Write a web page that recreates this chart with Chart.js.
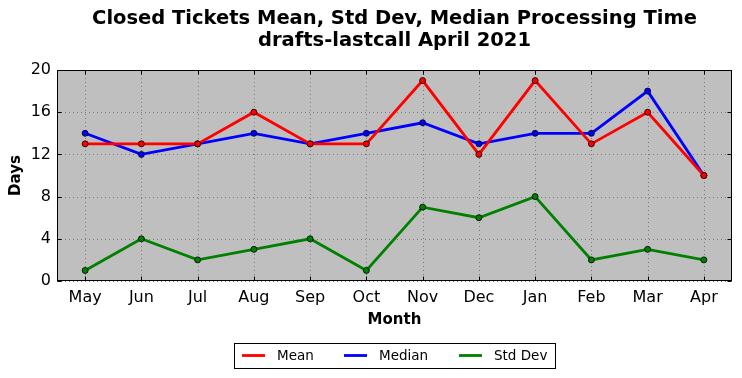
<!DOCTYPE html>
<html><head><meta charset="utf-8">
<script src="https://cdn.jsdelivr.net/npm/chart.js@4/dist/chart.umd.min.js"></script>
<style>html,body{margin:0;padding:0;background:#fff;overflow:hidden}</style>
</head><body>
<canvas id="c" width="742" height="378"></canvas>
<script>
const months = ["May","Jun","Jul","Aug","Sep","Oct","Nov","Dec","Jan","Feb","Mar","Apr"];
const meanDays = [13,13,13,16,13,13,19,12,19,13,16,10];
const medianDays = [14,12,13,14,13,14,15,13,14,14,18,10];
const stdDevDays = [1,4,2,3,4,1,7,6,8,2,3,2];
const yTickValues = [0,4,8,12,16,20];
const titleLines = ["Closed Tickets Mean, Std Dev, Median Processing Time","drafts-lastcall April 2021"];
const FONT = "'DejaVu Sans', sans-serif";

const decor = {
  id: 'decor',
  beforeDatasetsDraw(chart) {
    const {ctx, chartArea: a, scales: {x, y}} = chart;
    ctx.save();
    ctx.fillStyle = '#bfbfbf';
    ctx.fillRect(a.left, a.top, a.right - a.left, a.bottom - a.top);
    ctx.strokeStyle = '#7a7a7a';
    ctx.lineWidth = 1;
    ctx.setLineDash([1, 3]);
    months.forEach((m, i) => {
      const px = Math.round(x.getPixelForValue(i)) + 0.5;
      ctx.beginPath(); ctx.moveTo(px, a.top); ctx.lineTo(px, a.bottom); ctx.stroke();
    });
    yTickValues.forEach(v => {
      const py = Math.round(y.getPixelForValue(v)) + 0.5;
      ctx.beginPath(); ctx.moveTo(a.left, py); ctx.lineTo(a.right, py); ctx.stroke();
    });
    ctx.restore();
  },
  afterDatasetsDraw(chart) {
    const {ctx, chartArea: a, scales: {x, y}} = chart;
    ctx.save();
    ctx.strokeStyle = '#000';
    ctx.lineWidth = 1;
    ctx.setLineDash([]);
    const L = Math.round(a.left) + 0.5, R = Math.round(a.right) - 0.5, T = Math.round(a.top) + 0.5, B = Math.round(a.bottom) - 0.5;
    ctx.strokeRect(L, T, R - L, B - T);
    const tl = 4;
    months.forEach((m, i) => {
      const px = Math.round(x.getPixelForValue(i)) + 0.5;
      ctx.beginPath(); ctx.moveTo(px, B); ctx.lineTo(px, B - tl); ctx.stroke();
      ctx.beginPath(); ctx.moveTo(px, T); ctx.lineTo(px, T + tl); ctx.stroke();
    });
    yTickValues.forEach(v => {
      const py = Math.round(y.getPixelForValue(v)) + 0.5;
      ctx.beginPath(); ctx.moveTo(L, py); ctx.lineTo(L + tl, py); ctx.stroke();
      ctx.beginPath(); ctx.moveTo(R, py); ctx.lineTo(R - tl, py); ctx.stroke();
    });
    // titles
    const cx = (a.left + a.right) / 2;
    ctx.fillStyle = '#000';
    ctx.textAlign = 'center';
    ctx.textBaseline = 'middle';
    ctx.font = 'bold 19.5px ' + FONT;
    ctx.fillText(titleLines[0], cx, 19);
    ctx.fillText(titleLines[1], cx, 41);
    ctx.font = 'bold 15px ' + FONT;
    ctx.fillText('Month', cx, 320);
    ctx.save();
    ctx.translate(16, (a.top + a.bottom) / 2);
    ctx.rotate(-Math.PI / 2);
    ctx.fillText('Days', 0, 0);
    ctx.restore();
    // legend
    const lx = 234.5, ly = 343.5, lw = 321, lh = 25;
    ctx.fillStyle = '#fff';
    ctx.fillRect(lx, ly, lw, lh);
    ctx.strokeStyle = '#000';
    ctx.strokeRect(lx, ly, lw, lh);
    ctx.font = '13.5px ' + FONT;
    ctx.textAlign = 'left';
    const items = chart.data.datasets;
    const xs = [242, 344, 459];
    items.forEach((ds, i) => {
      ctx.strokeStyle = ds.borderColor;
      ctx.lineWidth = 2.8;
      ctx.beginPath(); ctx.moveTo(xs[i], 355.5); ctx.lineTo(xs[i] + 23, 355.5); ctx.stroke();
      ctx.fillStyle = '#000';
      ctx.fillText(ds.label, xs[i] + 35, 356);
    });
    ctx.restore();
  }
};

const mk = (label, data, color) => ({
  label, data,
  borderColor: color, backgroundColor: color,
  borderWidth: 2.8, pointRadius: 3, pointBorderColor: '#000', pointBorderWidth: 0.8,
  pointBackgroundColor: color, tension: 0, fill: false
});

new Chart(document.getElementById('c'), {
  type: 'line',
  data: {
    labels: months,
    datasets: [mk('Mean', meanDays, '#ff0000'), mk('Median', medianDays, '#0000ff'), mk('Std Dev', stdDevDays, '#008000')]
  },
  options: {
    responsive: false,
    animation: false,
    devicePixelRatio: 1,
    layout: {padding: {top: 70, right: 10, left: 0, bottom: 0}},
    plugins: {legend: {display: false}, title: {display: false}, tooltip: {enabled: false}},
    scales: {
      x: {
        offset: true,
        grid: {display: false, drawTicks: false},
        border: {display: false},
        ticks: {color: '#000', font: {size: 16, family: FONT}, padding: 7, maxRotation: 0, autoSkip: false},
        afterFit: s => { s.height = 97; }
      },
      y: {
        min: 0, max: 20,
        grid: {display: false, drawTicks: false},
        border: {display: false},
        afterBuildTicks: s => { s.ticks = yTickValues.map(v => ({value: v})); },
        ticks: {color: '#000', font: {size: 16, family: FONT}, padding: 6},
        afterFit: s => { s.width = 57; }
      }
    }
  },
  plugins: [decor]
});
</script>
</body></html>
